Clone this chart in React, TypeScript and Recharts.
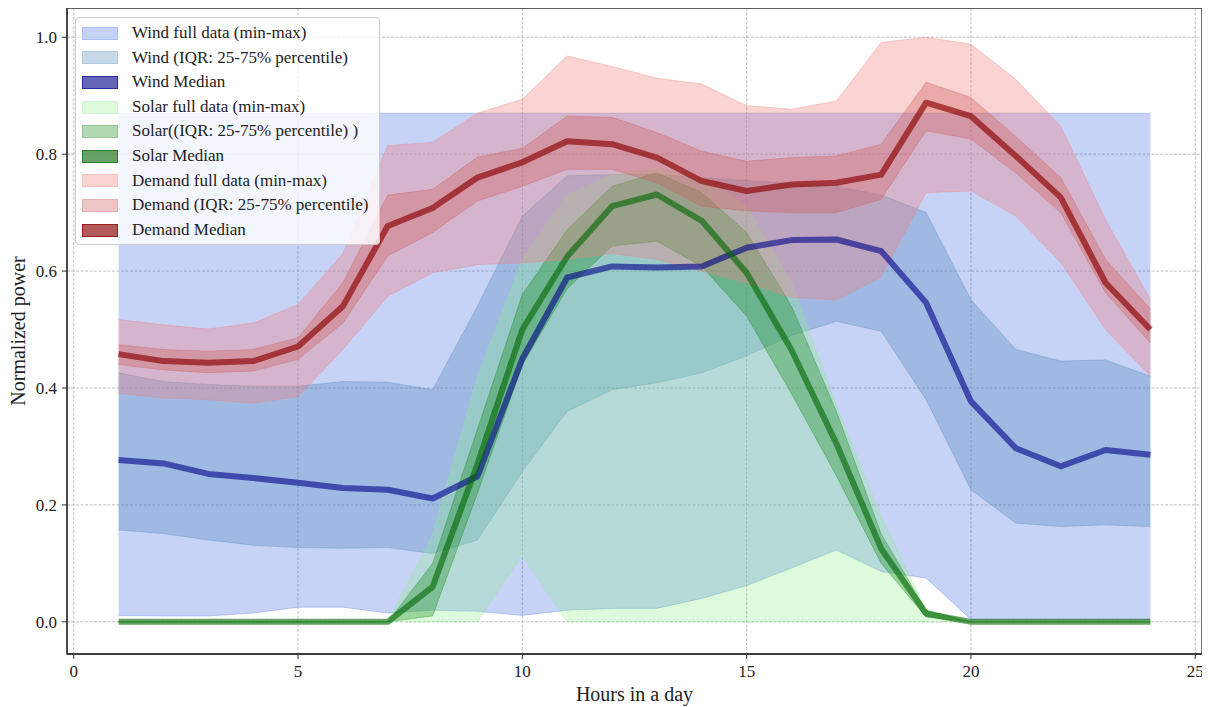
import React from 'react';
import {
  ComposedChart,
  Area,
  Line,
  XAxis,
  YAxis,
  CartesianGrid,
  Legend,
  ReferenceArea,
} from 'recharts';

const hours = [1, 2, 3, 4, 5, 6, 7, 8, 9, 10, 11, 12, 13, 14, 15, 16, 17, 18, 19, 20, 21, 22, 23, 24];

const windMin = [0.011, 0.01, 0.01, 0.015, 0.025, 0.025, 0.015, 0.02, 0.018, 0.011, 0.02, 0.023, 0.023, 0.04, 0.062, 0.092, 0.123, 0.086, 0.075, 0.004, 0.004, 0.004, 0.004, 0.004];
const windQ1 = [0.157, 0.151, 0.14, 0.131, 0.127, 0.126, 0.127, 0.117, 0.14, 0.257, 0.36, 0.397, 0.409, 0.426, 0.455, 0.49, 0.514, 0.497, 0.38, 0.226, 0.169, 0.163, 0.166, 0.163];
const windMedian = [0.277, 0.271, 0.253, 0.246, 0.238, 0.229, 0.226, 0.211, 0.249, 0.45, 0.589, 0.608, 0.606, 0.608, 0.64, 0.653, 0.654, 0.634, 0.546, 0.377, 0.297, 0.266, 0.294, 0.286];
const windQ3 = [0.426, 0.411, 0.406, 0.403, 0.403, 0.411, 0.41, 0.397, 0.54, 0.694, 0.763, 0.765, 0.765, 0.76, 0.755, 0.75, 0.745, 0.73, 0.7, 0.551, 0.466, 0.446, 0.448, 0.42];
const windMax = [0.87, 0.87, 0.87, 0.87, 0.87, 0.87, 0.87, 0.87, 0.87, 0.87, 0.87, 0.87, 0.87, 0.87, 0.87, 0.87, 0.87, 0.87, 0.87, 0.87, 0.87, 0.87, 0.87, 0.87];

const solarMin = [0, 0, 0, 0, 0, 0, 0, 0, 0, 0.114, 0, 0, 0, 0, 0, 0, 0, 0, 0, 0, 0, 0, 0, 0];
const solarQ1 = [0, 0, 0, 0, 0, 0, 0, 0.01, 0.22, 0.44, 0.57, 0.643, 0.651, 0.608, 0.523, 0.39, 0.25, 0.1, 0.008, 0, 0, 0, 0, 0];
const solarMedian = [0, 0, 0, 0, 0, 0, 0, 0.06, 0.27, 0.5, 0.625, 0.711, 0.731, 0.686, 0.597, 0.465, 0.305, 0.125, 0.014, 0, 0, 0, 0, 0];
const solarQ3 = [0, 0, 0, 0, 0, 0, 0, 0.1, 0.33, 0.56, 0.671, 0.745, 0.768, 0.734, 0.666, 0.54, 0.36, 0.15, 0.02, 0, 0, 0, 0, 0];
const solarMax = [0, 0, 0, 0, 0, 0, 0, 0.15, 0.42, 0.62, 0.73, 0.765, 0.775, 0.76, 0.71, 0.58, 0.37, 0.18, 0.02, 0, 0, 0, 0, 0];

const demandMin = [0.391, 0.383, 0.38, 0.374, 0.385, 0.466, 0.557, 0.597, 0.611, 0.614, 0.62, 0.63, 0.62, 0.6, 0.58, 0.555, 0.551, 0.59, 0.734, 0.737, 0.694, 0.615, 0.5, 0.42];
const demandQ1 = [0.44, 0.431, 0.426, 0.429, 0.449, 0.511, 0.626, 0.666, 0.72, 0.745, 0.774, 0.774, 0.751, 0.711, 0.703, 0.7, 0.7, 0.723, 0.84, 0.826, 0.768, 0.7, 0.563, 0.477];
const demandMedian = [0.458, 0.446, 0.443, 0.446, 0.471, 0.54, 0.677, 0.708, 0.76, 0.786, 0.822, 0.817, 0.794, 0.754, 0.737, 0.748, 0.751, 0.765, 0.888, 0.865, 0.797, 0.726, 0.58, 0.5];
const demandQ3 = [0.474, 0.466, 0.463, 0.466, 0.486, 0.58, 0.73, 0.74, 0.795, 0.81, 0.865, 0.863, 0.837, 0.805, 0.788, 0.794, 0.797, 0.817, 0.923, 0.897, 0.83, 0.76, 0.62, 0.535];
const demandMax = [0.517, 0.508, 0.501, 0.511, 0.543, 0.63, 0.815, 0.82, 0.87, 0.894, 0.968, 0.95, 0.93, 0.92, 0.883, 0.877, 0.891, 0.991, 1.0, 0.988, 0.928, 0.848, 0.688, 0.551];

const xTicks = [0, 5, 10, 15, 20, 25];
const yTicks = [0, 0.2, 0.4, 0.6, 0.8, 1.0];

const legendLabels = [
  'Wind full data (min-max)',
  'Wind (IQR: 25-75% percentile)',
  'Wind Median',
  'Solar full data (min-max)',
  'Solar((IQR: 25-75% percentile) )',
  'Solar Median',
  'Demand full data (min-max)',
  'Demand (IQR: 25-75% percentile)',
  'Demand Median',
];

const data = hours.map((h, i) => ({
  hour: h,
  windFull: [windMin[i], windMax[i]],
  windIqr: [windQ1[i], windQ3[i]],
  windMed: windMedian[i],
  solarFull: [solarMin[i], solarMax[i]],
  solarIqr: [solarQ1[i], solarQ3[i]],
  solarMed: solarMedian[i],
  demandFull: [demandMin[i], demandMax[i]],
  demandIqr: [demandQ1[i], demandQ3[i]],
  demandMed: demandMedian[i],
}));

const FONT = '"Liberation Serif", "Times New Roman", Times, serif';

const C = {
  windFull: { color: '#4169e1', alpha: 0.3 },
  windIqr: { color: '#4682b4', alpha: 0.3 },
  windMed: { color: '#00008b', alpha: 0.6 },
  solarFull: { color: '#90ee90', alpha: 0.3 },
  solarIqr: { color: '#008000', alpha: 0.3 },
  solarMed: { color: '#006400', alpha: 0.6 },
  demandFull: { color: '#f08080', alpha: 0.35 },
  demandIqr: { color: '#cd5c5c', alpha: 0.35 },
  demandMed: { color: '#8b0000', alpha: 0.65 },
};

const legendStyles = [C.windFull, C.windIqr, C.windMed, C.solarFull, C.solarIqr, C.solarMed, C.demandFull, C.demandIqr, C.demandMed];

function rgba(hex: string, a: number) {
  const r = parseInt(hex.slice(1, 3), 16);
  const g = parseInt(hex.slice(3, 5), 16);
  const b = parseInt(hex.slice(5, 7), 16);
  return `rgba(${r},${g},${b},${a})`;
}

const renderLegend = () => (
  <div
    style={{
      background: 'rgba(255,255,255,0.8)',
      border: '1px solid #cccccc',
      borderRadius: 4,
      padding: '3px 6px 2px 6px',
      fontFamily: FONT,
      fontSize: 17,
      color: '#222',
      boxSizing: 'border-box',
      width: 305,
    }}
  >
    {legendLabels.map((label, i) => {
      const s = legendStyles[i];
      const isMed = i % 3 === 2;
      return (
        <div key={label} style={{ display: 'flex', alignItems: 'center', height: 24.6 }}>
          <span
            style={{
              display: 'inline-block',
              width: 36,
              height: 13,
              background: rgba(s.color, s.alpha),
              border: `1px solid ${rgba(s.color, isMed ? s.alpha : s.alpha * 0.6)}`,
              boxSizing: 'border-box',
              marginRight: 14,
              flex: 'none',
            }}
          />
          <span style={{ whiteSpace: 'nowrap', lineHeight: '24.6px' }}>{label}</span>
        </div>
      );
    })}
  </div>
);

const bandProps = (key: keyof typeof C) => ({
  type: 'linear' as const,
  dataKey: key,
  fill: C[key].color,
  fillOpacity: C[key].alpha,
  stroke: C[key].color,
  strokeOpacity: C[key].alpha,
  strokeWidth: 1,
  isAnimationActive: false,
  dot: false,
  activeDot: false,
  legendType: 'none' as const,
});

const lineProps = (key: keyof typeof C) => ({
  type: 'linear' as const,
  dataKey: key,
  stroke: C[key].color,
  strokeOpacity: C[key].alpha,
  strokeWidth: 6,
  strokeLinejoin: 'round' as const,
  isAnimationActive: false,
  dot: false,
  activeDot: false,
  legendType: 'none' as const,
});

const tickStyle = { fontFamily: FONT, fontSize: 17, fill: '#222' };

export default function App() {
  return (
    <div style={{ position: 'relative', top: -1 }}>
      <ComposedChart width={1200} height={700} data={data} margin={{ top: 1, right: 6, bottom: 0, left: 0 }}>
        <Area {...bandProps('windFull')} />
        <Area {...bandProps('windIqr')} />
        <Line {...lineProps('windMed')} />
        <Area {...bandProps('solarFull')} />
        <Area {...bandProps('solarIqr')} />
        <Line {...lineProps('solarMed')} />
        <Area {...bandProps('demandFull')} />
        <Area {...bandProps('demandIqr')} />
        <Line {...lineProps('demandMed')} />
        <CartesianGrid stroke="#b0b0b0" strokeDasharray="3 1.5" strokeWidth={0.8} />
        <XAxis
          type="number"
          dataKey="hour"
          domain={[-0.15, 25.15]}
          ticks={xTicks}
          allowDataOverflow
          height={53}
          tickSize={5}
          tickMargin={6}
          tick={tickStyle}
          tickLine={{ stroke: '#333' }}
          axisLine={{ stroke: '#333', strokeWidth: 1.3 }}
          label={{
            content: (p: any) => {
              const vb = p.viewBox || {};
              return (
                <text x={vb.x + vb.width / 2} y={694} textAnchor="middle" fontFamily={FONT} fontSize={20} fill="#222">
                  Hours in a day
                </text>
              );
            },
          }}
        />
        <YAxis
          type="number"
          domain={[-0.055, 1.05]}
          ticks={yTicks}
          allowDataOverflow
          width={59}
          tickSize={5}
          tickMargin={5}
          tick={tickStyle}
          tickFormatter={(v: number) => v.toFixed(1)}
          tickLine={{ stroke: '#333' }}
          axisLine={{ stroke: '#333', strokeWidth: 1.3 }}
          label={{
            content: (p: any) => {
              const vb = p.viewBox || {};
              const cx = 17;
              const cy = vb.y + vb.height / 2;
              return (
                <text x={cx} y={cy} transform={`rotate(-90 ${cx} ${cy})`} textAnchor="middle" fontFamily={FONT} fontSize={20} fill="#222">
                  Normalized power
                </text>
              );
            },
          }}
        />
        <ReferenceArea x1={-0.15} x2={25.15} y1={-0.055} y2={1.05} fill="none" stroke="#333" strokeWidth={1.3} ifOverflow="visible" />
        <Legend
          layout="horizontal"
          verticalAlign="middle"
          align="center"
          content={renderLegend}
          wrapperStyle={{ left: 67, top: 10, width: 305, height: 'auto' }}
        />
      </ComposedChart>
    </div>
  );
}
